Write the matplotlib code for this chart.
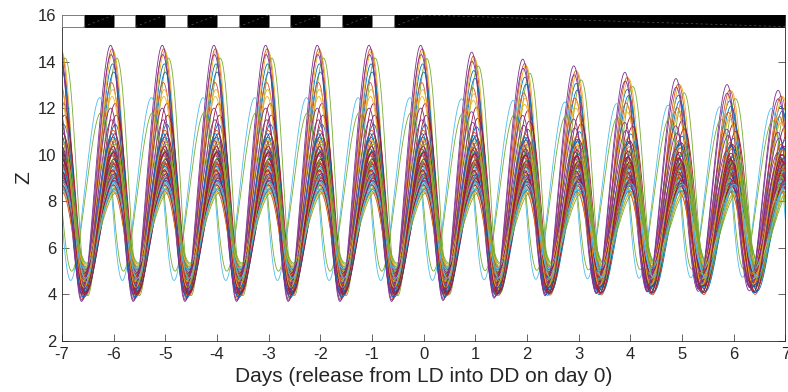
import numpy as np
import matplotlib
matplotlib.use("Agg")
import matplotlib.pyplot as plt
from matplotlib.patches import Rectangle

# ---------------- data ----------------
# Each trace: LD peak value, LD trough value, peak time offset (days, relative to
# the integer day), phase drift per day in DD, amplitude damping rate in DD.
peak = [13.90, 14.55, 14.45, 14.70, 14.15, 12.45, 12.20,
        13.55, 13.10, 12.80, 14.30, 11.80, 10.20, 11.70,
        11.30, 11.05, 12.50, 11.50, 10.70, 9.60, 10.90,
        10.75, 10.55, 10.30, 10.60, 10.45, 9.20, 10.35,
        10.15, 10.00, 9.90, 10.25, 9.75, 8.90, 10.05,
        9.85, 9.70, 9.55, 9.95, 9.40, 8.60, 9.80,
        9.50, 9.35, 9.25, 9.65, 9.10, 9.45, 9.60,
        9.20, 9.05, 8.95, 9.30, 8.80, 9.00, 9.35,
        8.85, 8.75, 8.65, 9.15, 8.55, 8.70, 9.00,
        8.50, 8.45, 8.40, 8.90, 8.35, 8.50, 8.70,
        10.90, 9.60, 10.65, 12.00, 9.90, 8.80, 10.10]
trough = [3.85, 3.80, 3.90, 3.70, 3.95, 4.60, 4.10,
          3.90, 4.00, 4.05, 3.75, 5.00, 4.30, 4.15,
          4.20, 4.25, 4.00, 4.05, 4.35, 4.50, 4.10,
          4.30, 4.40, 4.20, 4.00, 4.50, 4.80, 4.25,
          4.35, 4.60, 4.50, 4.15, 4.70, 5.00, 4.45,
          4.00, 4.30, 4.75, 4.45, 4.85, 5.15, 4.60,
          4.70, 3.95, 4.90, 4.50, 5.05, 4.40, 4.35,
          4.10, 4.80, 5.00, 4.60, 5.20, 4.65, 4.75,
          4.30, 5.10, 4.60, 4.70, 5.30, 4.95, 4.05,
          5.05, 4.85, 5.25, 4.95, 5.35, 5.10, 4.90,
          3.90, 4.40, 4.30, 4.05, 4.55, 4.70, 4.00]
phase = [-0.02, -0.03, -0.01, -0.06, 0.06, -0.27, 0.03,
         0.00, -0.04, -0.02, -0.05, -0.25, 0.02, 0.05,
         0.03, -0.01, -0.03, -0.04, 0.04, 0.00, 0.02,
         -0.02, 0.01, 0.03, -0.05, 0.02, 0.01, -0.01,
         0.00, -0.03, 0.02, -0.04, 0.03, 0.00, -0.02,
         0.02, -0.02, 0.00, -0.03, 0.01, 0.03, 0.00,
         -0.01, 0.02, -0.03, -0.02, 0.04, -0.01, 0.01,
         0.03, -0.01, 0.01, -0.02, 0.02, 0.00, -0.02,
         0.00, 0.02, -0.02, -0.01, 0.03, 0.01, 0.02,
         0.01, -0.02, 0.02, 0.01, 0.04, 0.00, -0.01,
         -0.03, 0.01, -0.01, -0.06, 0.03, 0.02, 0.00]
drift = [-0.010, -0.008, -0.006, -0.012, -0.004, 0.000, -0.005,
         -0.009, -0.011, -0.007, -0.013, 0.000, -0.003, -0.002,
         -0.006, -0.010, -0.008, -0.012, 0.002, -0.004, -0.007,
         -0.003, -0.009, -0.005, -0.014, 0.001, -0.006, -0.008,
         -0.004, -0.011, -0.002, -0.010, 0.003, -0.007, -0.009,
         -0.006, -0.012, -0.003, -0.015, 0.002, -0.005, -0.004,
         -0.008, -0.007, -0.010, -0.011, 0.004, -0.002, -0.006,
         -0.002, -0.013, -0.006, -0.009, 0.001, -0.008, -0.010,
         -0.005, -0.004, -0.011, -0.012, 0.003, -0.003, -0.007,
         -0.007, -0.009, -0.001, -0.014, 0.002, -0.006, -0.005,
         -0.004, -0.010, -0.008, -0.013, 0.000, -0.002, -0.009]
damp = [0.040, 0.042, 0.041, 0.039, 0.043, 0.012, 0.025,
        0.038, 0.035, 0.030, 0.040, 0.010, 0.010, 0.022,
        0.020, 0.018, 0.028, 0.022, 0.015, 0.008, 0.016,
        0.014, 0.012, 0.010, 0.016, 0.012, 0.006, 0.011,
        0.010, 0.008, 0.009, 0.011, 0.007, 0.004, 0.009,
        0.008, 0.007, 0.006, 0.010, 0.006, 0.004, 0.008,
        0.007, 0.006, 0.005, 0.009, 0.005, 0.006, 0.007,
        0.006, 0.005, 0.004, 0.008, 0.004, 0.005, 0.006,
        0.005, 0.004, 0.004, 0.008, 0.003, 0.004, 0.005,
        0.004, 0.003, 0.003, 0.007, 0.003, 0.003, 0.004,
        0.016, 0.007, 0.014, 0.028, 0.008, 0.004, 0.012]

light_on = [-7, -6, -5, -4, -3, -2, -1]   # LD: lights on at these days
light_len = 0.42                           # length of light phase (days)
dd_start = 0                               # release into DD

xticks = list(range(-7, 8))
yticks = list(range(2, 17, 2))
xlabel = "Days (release from LD into DD on day 0)"
ylabel = "Z"

colors = ['#0072BD', '#D95319', '#EDB120', '#7E2F8E', '#77AC30', '#4DBEEE', '#A2142F']
skew = 0.2

# ---------------- figure ----------------
W, H = 788, 392
fig = plt.figure(figsize=(W / 100, H / 100), dpi=100)
plt.rcParams['font.family'] = ['Liberation Sans', 'DejaVu Sans']
ax = fig.add_axes([62 / W, 1 - 341 / H, (785.5 - 62) / W, (341 - 15) / H])

t = np.linspace(-7, 7, 2801)
tp = np.maximum(t, 0)
for i in range(len(peak)):
    M0 = (peak[i] + trough[i]) / 2
    A0 = (peak[i] - trough[i]) / 2
    A = A0 * np.exp(-damp[i] * tp)
    M = M0 - 0.5 * (A0 - A)
    th = 2 * np.pi * (t - phase[i] - drift[i] * tp)
    u = th + skew * (1 - np.cos(th))
    ax.plot(t, M + A * np.cos(u), color=colors[i % 7], lw=0.6)

# light/dark bar
y0, y1 = 15.5, 16.0
ax.add_patch(Rectangle((-7, y0), 14, y1 - y0, facecolor='black', edgecolor='black', lw=0.6, zorder=5))
dark_segments = []
for k, on in enumerate(light_on):
    ax.add_patch(Rectangle((on, y0), light_len, y1 - y0, facecolor='white',
                           edgecolor='#7f7f7f', lw=0.6, zorder=6))
    nxt = light_on[k + 1] if k + 1 < len(light_on) else dd_start
    dark_segments.append((on + light_len, nxt, True))
dark_segments.append((dd_start, 7, False))
for (a, b, up) in dark_segments:
    ys = [y0, y1] if up else [y1, y0]
    ax.plot([a, b], ys, color='#5a5a5a', lw=0.5, ls=(0, (3, 4)), zorder=7)

ax.set_xlim(-7, 7)
ax.set_ylim(2, 16)
ax.set_xticks(xticks)
ax.set_yticks(yticks)
ax.set_xticklabels([str(v) for v in xticks])
ax.set_yticklabels([str(v) for v in yticks])
tc = '#262626'
ax.tick_params(direction='in', length=5, width=0.5, top=True, right=True,
               labelsize=12, colors=tc)
ax.tick_params(axis='x', pad=4)
ax.tick_params(axis='y', pad=4)
for s in ax.spines.values():
    s.set_linewidth(0.6)
    s.set_color(tc)
ax.set_xlabel(xlabel, fontsize=15, color=tc, labelpad=4)
ax.set_ylabel(ylabel, fontsize=15, color=tc, labelpad=3)

fig.savefig("out.png", dpi=100)
